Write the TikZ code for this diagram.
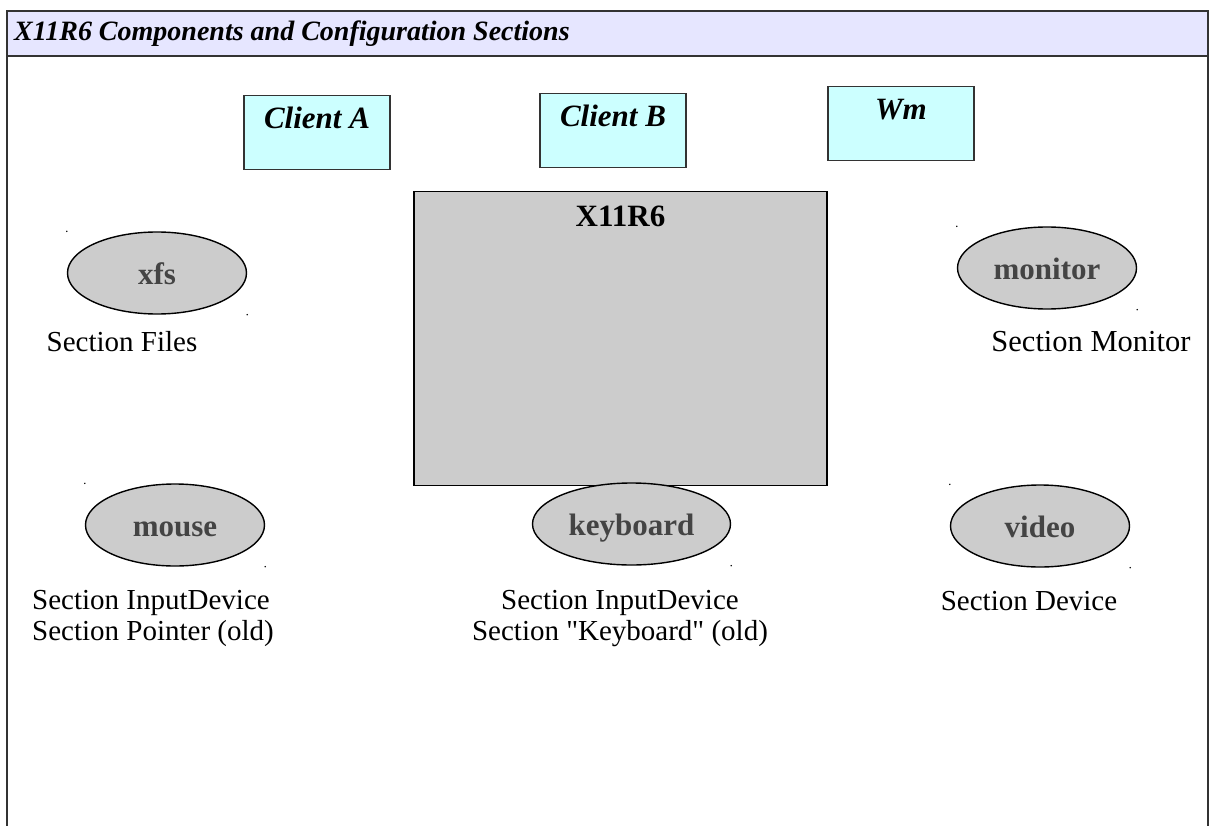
\documentclass[tikz,border=0pt]{standalone}
\usepackage{fontspec}
\setmainfont{Liberation Serif}[Ligatures=TeXOff]
\usetikzlibrary{shapes.geometric}
\definecolor{titlebg}{HTML}{E6E6FF}
\definecolor{clientbg}{HTML}{CCFFFF}
\definecolor{srvgray}{HTML}{CCCCCC}
\definecolor{edgegray}{HTML}{333333}
\definecolor{txtgray}{HTML}{444444}
\newcommand{\fsz}[2]{\fontsize{#1}{#2}\selectfont}

\begin{document}
\begin{tikzpicture}[x=1pt, y=-1pt,
  client/.style={draw=edgegray, fill=clientbg, line width=1.3pt, inner sep=0pt,
    minimum width=146pt, text height=33pt, text depth=41pt, anchor=north,
    font=\fsz{31}{34}\bfseries\itshape},
  comp/.style={ellipse, draw=black, fill=srvgray, line width=1.4pt, inner sep=0pt,
    minimum width=179pt, minimum height=82pt, text height=22pt, text depth=0pt,
    text=txtgray, font=\fsz{31}{34}\bfseries},
  section/.style={font=\fsz{29}{31}, inner sep=0pt, align=center}]
  \useasboundingbox (0,0) rectangle (1214,826);
  % frame and title bar
  \fill[titlebg] (7,11) rectangle (1208,56);
  \draw[edgegray, line width=1.6pt] (7,826) -- (7,11) -- (1208,11) -- (1208,826);
  \draw[edgegray, line width=1.6pt] (7,56) -- (1208,56);
  \node[anchor=west, inner sep=0pt, font=\fsz{28}{30}\bfseries\itshape] (title) at (14,34)
    {X11R6 Components and Configuration Sections};
  % clients
  \node[client] (clientA) at (317,95) {Client A};
  \node[client] (clientB) at (613,93) {Client B};
  \node[client] (wm) at (901,86) {Wm};
  % components
  \node[comp] (xfs) at (157,273) {xfs};
  \node[comp] (monitor) at (1047,268) {monitor};
  \node[comp] (mouse) at (175,525) {mouse};
  \node[comp] (video) at (1040,526) {video};
  \foreach \n in {xfs,monitor,mouse,video} {
    \fill (\n.north -| \n.west) circle[radius=0.8pt];
    \fill (\n.south -| \n.east) circle[radius=0.8pt];
  }
  % server
  \node[draw=black, fill=srvgray, line width=1.3pt, inner sep=0pt, anchor=north,
    minimum width=413pt, text height=35pt, text depth=259pt,
    font=\fsz{31}{34}\bfseries] (server) at (620.5,191) {X11R6};
  \node[comp, minimum width=198pt] (keyboard) at (631.5,524) {keyboard};
  \fill (keyboard.south -| keyboard.east) circle[radius=0.8pt];
  % sections
  \node[section] (secfiles) at (122,342) {Section Files};
  \node[section, font=\fsz{30.5}{33}] (secmonitor) at (1091,342) {Section Monitor};
  \node[section, anchor=north west, align=left] (secmouse) at (32,590)
    {Section InputDevice\\Section Pointer (old)};
  \node[section, anchor=north] (seckbd) at (620,590)
    {Section InputDevice\\Section "Keyboard" (old)};
  \node[section] (secvideo) at (1029,601) {Section Device};
\end{tikzpicture}
\end{document}
